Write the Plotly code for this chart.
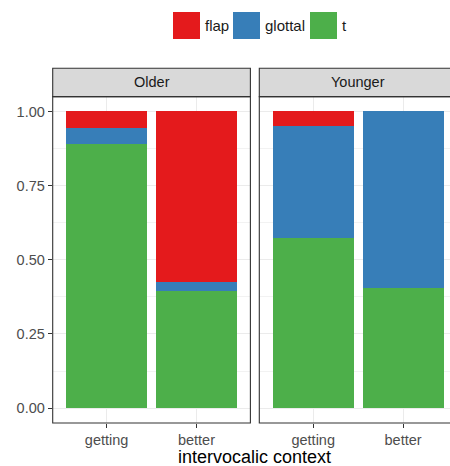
import plotly.graph_objects as go

# ---- data ----
groups = ["Older", "Younger"]
contexts = ["getting", "better"]
variants = ["flap", "glottal", "t"]
colors = {"flap": "#E41A1C", "glottal": "#377EB8", "t": "#4DAF4A"}
values = {
    "Older": {"t": [0.890, 0.394], "glottal": [0.054, 0.030], "flap": [0.056, 0.576]},
    "Younger": {"t": [0.573, 0.404], "glottal": [0.377, 0.596], "flap": [0.050, 0.0]},
}
y_ticks = [0, 0.25, 0.5, 0.75, 1.0]
y_tick_labels = ["0.00", "0.25", "0.50", "0.75", "1.00"]
x_title = "intervocalic context"

W, H = 450, 466
FONT = "Liberation Sans, Arial, Helvetica, sans-serif"


def px(x):
    return x / W


def py(y):
    return 1 - y / H


# panel geometry (pixels)
P1 = (52.7, 250.4)
P2 = (259.3, 457.0)
PT, PB = 96.6, 423.0
ST = 68.3
unit = (P1[1] - P1[0]) / 2.2

fig = go.Figure()
axes = ["x", "x2"]
for g, ax in zip(groups, axes):
    yax = "y" if ax == "x" else "y2"
    for v in ["t", "glottal", "flap"]:
        fig.add_trace(go.Bar(
            x=contexts, y=values[g][v], name=v, xaxis=ax, yaxis=yax,
            marker=dict(color=colors[v], line=dict(width=0)),
            width=0.9, showlegend=False,
            hovertemplate=f"{g} %{{x}} {v}: %{{y:.3f}}<extra></extra>",
        ))

grid = "#EBEBEB"
xcommon = dict(
    type="category", categoryorder="array", categoryarray=contexts,
    showgrid=True, gridcolor=grid, gridwidth=1, zeroline=False,
    ticks="outside", ticklen=4, tickcolor="#333333", tickwidth=1,
    tickfont=dict(family=FONT, size=14.5, color="#4D4D4D"),
    showline=False,
)
ycommon = dict(
    range=[-0.05, 1.05], domain=[py(PB), py(PT)],
    tickvals=y_ticks, ticktext=y_tick_labels,
    showgrid=True, gridcolor=grid, gridwidth=1, zeroline=False,
    minor=dict(tickvals=[0.125, 0.375, 0.625, 0.875], showgrid=True,
               gridcolor="#F2F2F2", gridwidth=0.6, ticks=""),
    tickfont=dict(family=FONT, size=14.5, color="#4D4D4D"),
    showline=False,
)

fig.update_layout(
    width=W, height=H, autosize=False,
    margin=dict(l=0, r=0, t=0, b=0),
    paper_bgcolor="white", plot_bgcolor="white",
    barmode="stack", bargap=0.1,
    showlegend=False,
    xaxis=dict(xcommon, domain=[px(P1[0]), px(P1[1])], range=[-0.6, 1.6], anchor="y"),
    xaxis2=dict(xcommon, domain=[px(P2[0]), 1.0],
                range=[-0.6, -0.6 + (W - P2[0]) / unit], anchor="y2"),
    yaxis=dict(ycommon, anchor="x", ticks="outside", ticklen=4,
               tickcolor="#333333", tickwidth=1, showticklabels=True),
    yaxis2=dict(ycommon, anchor="x2", showticklabels=False, ticks=""),
)

shapes = []
annotations = []
for g, (x0, x1) in zip(groups, [P1, P2]):
    # strip
    shapes.append(dict(type="rect", xref="paper", yref="paper",
                       x0=px(x0), x1=px(x1), y0=py(PT), y1=py(ST),
                       fillcolor="#D9D9D9", line=dict(color="#333333", width=1.1),
                       layer="above"))
    # panel border
    shapes.append(dict(type="rect", xref="paper", yref="paper",
                       x0=px(x0), x1=px(x1), y0=py(PB), y1=py(PT),
                       fillcolor="rgba(0,0,0,0)", line=dict(color="#333333", width=1.1),
                       layer="above"))
    annotations.append(dict(text=g, xref="paper", yref="paper",
                            x=px((x0 + x1) / 2), y=py((ST + PT) / 2),
                            xanchor="center", yanchor="middle", showarrow=False,
                            font=dict(family=FONT, size=14.5, color="#1A1A1A")))

# x title
annotations.append(dict(text=x_title, xref="paper", yref="paper",
                        x=px(254.5), y=py(457.3), xanchor="center", yanchor="middle",
                        showarrow=False, borderpad=0,
                        font=dict(family=FONT, size=18, color="black")))

# legend (manual)
key_x = {"flap": 173, "glottal": 233, "t": 310}
for v in variants:
    x0 = key_x[v]
    shapes.append(dict(type="rect", xref="paper", yref="paper",
                       x0=px(x0), x1=px(x0 + 27), y0=py(39), y1=py(12),
                       fillcolor=colors[v], line=dict(width=0)))
    annotations.append(dict(text=v, xref="paper", yref="paper",
                            x=px(x0 + 29.5), y=py(25.5), xanchor="left", yanchor="middle",
                            showarrow=False, font=dict(family=FONT, size=15, color="#1A1A1A")))

fig.update_layout(shapes=shapes, annotations=annotations)
fig.write_html(
    "out.html",
    config={"displayModeBar": False},
    post_script="document.body.style.margin='0';document.body.style.overflow='hidden';",
)
